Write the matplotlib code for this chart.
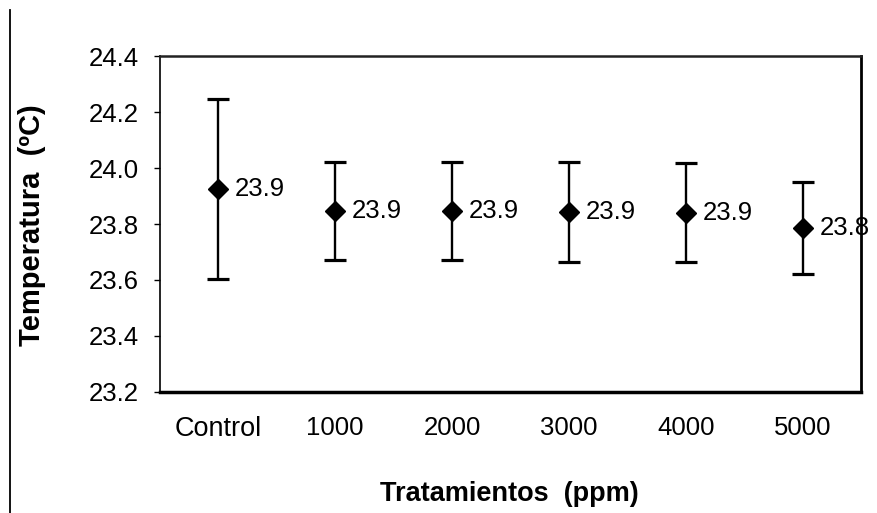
import matplotlib
matplotlib.use("Agg")
import matplotlib.pyplot as plt
from matplotlib.lines import Line2D

categories = ["Control", "1000", "2000", "3000", "4000", "5000"]
means = [23.925, 23.846, 23.846, 23.843, 23.840, 23.786]
sd = [0.321, 0.175, 0.175, 0.177, 0.177, 0.164]
value_labels = ["23.9", "23.9", "23.9", "23.9", "23.9", "23.8"]
y_ticks = [23.2, 23.4, 23.6, 23.8, 24.0, 24.2, 24.4]
y_ticklabels = ["23.2", "23.4", "23.6", "23.8", "24.0", "24.2", "24.4"]

plt.rcParams["font.family"] = ["Liberation Sans", "DejaVu Sans"]

fig = plt.figure(figsize=(8.77, 5.13), dpi=100)
ax = fig.add_axes([0.1824, 0.2359, 0.7994, 0.6549])

x = list(range(len(categories)))
ax.errorbar(x, means, yerr=sd, fmt="D", color="black", markersize=10.5,
            ecolor="black", elinewidth=1.7, capsize=8, capthick=2.3)

for xi, m, lab in zip(x, means, value_labels):
    ax.annotate(lab, (xi, m), xytext=(12, 0), textcoords="offset points",
                ha="left", va="center", fontsize=18.5)

ax.set_xlim(-0.5, len(categories) - 0.5)
ax.set_ylim(23.2, 24.4)
ax.set_yticks(y_ticks)
ax.set_yticklabels(y_ticklabels, fontsize=18.5)
ax.set_xticks(x)
ax.set_xticklabels(categories, fontsize=18.5)
ax.get_xticklabels()[0].set_fontsize(19.5)
ax.tick_params(axis="x", length=0, pad=17)
ax.tick_params(axis="y", length=4, width=1, pad=11, direction="out")

ax.spines["left"].set_linewidth(1.2)
ax.spines["bottom"].set_linewidth(2.5)
ax.spines["right"].set_linewidth(2.0)
ax.spines["top"].set_linewidth(1.8)
ax.spines["top"].set_color("#222222")

ax.set_xlabel("Tratamientos  (ppm)", fontsize=19.5, fontweight="bold", va="center")
ax.xaxis.set_label_coords(0.499, -0.303)
ax.set_ylabel("Temperatura  (ºC)", fontsize=21, fontweight="bold", va="center")
ax.yaxis.set_label_coords(-0.183, 0.497)

# page margin line at the left of the scan
fig.add_artist(Line2D([10 / 877, 10 / 877], [0, 1 - 10 / 513],
                      transform=fig.transFigure, color="black", linewidth=1.3))

fig.savefig("out.png", dpi=100)
